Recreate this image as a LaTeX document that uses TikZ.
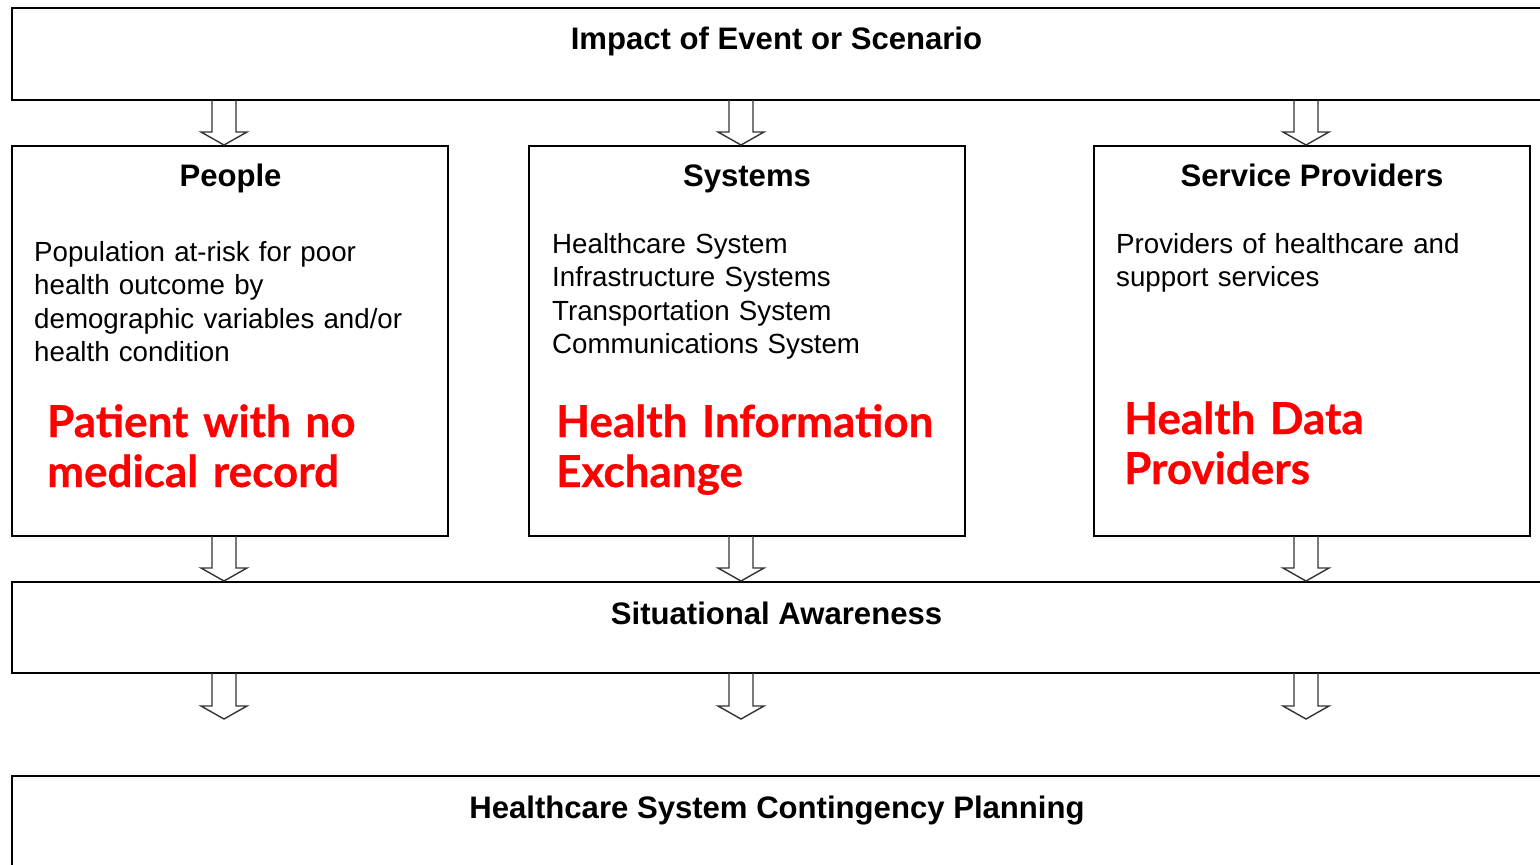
\documentclass[tikz,border=0pt]{standalone}
\usepackage{fontspec}
\setmainfont{Liberation Sans}
\newfontfamily\redfont{Lato}[BoldFeatures={FakeBold=0.6}]
\usetikzlibrary{calc}
\definecolor{redtxt}{RGB}{255,0,0}
\tikzset{
  box/.style={draw=black, line width=1.5pt, fill=none},
  head/.style={font=\fontsize{31.1}{36}\selectfont\bfseries, inner sep=0pt, anchor=base},
  body/.style={font=\fontsize{27.7}{33.5}\selectfont, inner sep=0pt, anchor=base west, align=left, text width=420pt},
  red/.style={font=\redfont\bfseries\fontsize{44}{50}\selectfont, text=redtxt, inner sep=0pt, anchor=base west, align=left, text width=440pt},
  harrowline/.style={draw=black!80, line width=1.4pt, line join=miter}
}
\newcommand\harr[2]{%
  \draw[harrowline] ($(#1)+(-12,0)$) -- ($(#2)+(-12,-13)$) -- ($(#2)+(-23,-13)$) -- (#2)
    -- ($(#2)+(23,-13)$) -- ($(#2)+(12,-13)$) -- ($(#1)+(12,0)$);}
\begin{document}
\begin{tikzpicture}[x=1pt,y=-1pt]
\useasboundingbox (0,0) rectangle (1540,865);
% boxes
\draw[box] (12,8) rectangle (1560,100);
\draw[box] (12,146) rectangle (448,536);
\draw[box] (529,146) rectangle (965,536);
\draw[box] (1094,146) rectangle (1530,536);
\draw[box] (12,582) rectangle (1560,673);
\draw[box] (12,776) rectangle (1560,880);
% arrow anchor coordinates
\coordinate (a1s) at (224,100); \coordinate (a1e) at (224,145);
\coordinate (a2s) at (741,100); \coordinate (a2e) at (741,145);
\coordinate (a3s) at (1306,100); \coordinate (a3e) at (1306,145);
\coordinate (b1s) at (224,536); \coordinate (b1e) at (224,581);
\coordinate (b2s) at (741,536); \coordinate (b2e) at (741,581);
\coordinate (b3s) at (1306,536); \coordinate (b3e) at (1306,581);
\coordinate (c1s) at (224,673); \coordinate (c1e) at (224,719);
\coordinate (c2s) at (741,673); \coordinate (c2e) at (741,719);
\coordinate (c3s) at (1306,673); \coordinate (c3e) at (1306,719);
\harr{a1s}{a1e}\harr{a2s}{a2e}\harr{a3s}{a3e}
\harr{b1s}{b1e}\harr{b2s}{b2e}\harr{b3s}{b3e}
\harr{c1s}{c1e}\harr{c2s}{c2e}\harr{c3s}{c3e}
% headings
\node[head] (impact) at (776.5,49) {Impact of Event or Scenario};
\node[head] (people) at (230.5,186) {People};
\node[head] (systems) at (747,186) {Systems};
\node[head] (providers) at (1312,186) {Service Providers};
\node[head] (sa) at (776.5,624) {Situational Awareness};
\node[head] (hscp) at (777,818) {Healthcare System Contingency Planning};
% bodies
\node[body] (pbody) at (34,261) {Population at-risk for poor\\health outcome by\\demographic variables and/or\\health condition};
\node[body] (sbody) at (552,253) {Healthcare System\\Infrastructure Systems\\Transportation System\\Communications System};
\node[body] (spbody) at (1116,253) {Providers of healthcare and\\support services};
% red notes
\node[red] (r1) at (47,437) {Patient with no\\medical record};
\node[red] (r2) at (556,437) {Health Information\\Exchange};
\node[red] (r3) at (1124,434) {Health Data\\Providers};
\end{tikzpicture}
\end{document}
